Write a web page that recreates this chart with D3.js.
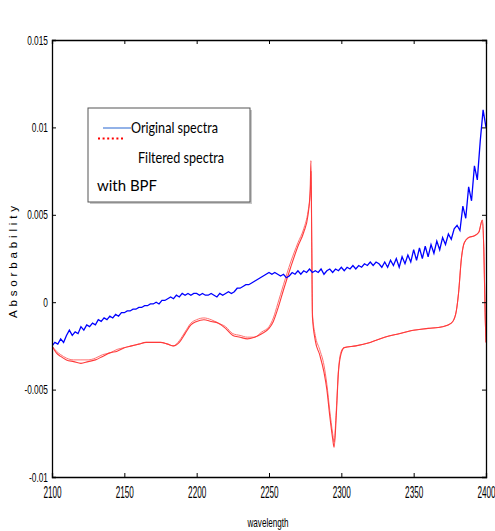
<!DOCTYPE html>
<html>
<head>
<meta charset="utf-8">
<script src="https://cdn.jsdelivr.net/npm/d3@7"></script>
<style>
  body { margin: 0; background: #fff; }
</style>
</head>
<body>
<div id="chart"></div>
<script>
// x ticks and y ticks
const xTicks = [2100, 2150, 2200, 2250, 2300, 2350, 2400];
const yTicks = [-0.01, -0.005, 0, 0.005, 0.01, 0.015];
const yTickLabels = ["-0.01", "-0.005", "0", "0.005", "0.01", "0.015"];

// original spectra, sampled every 2 nm from 2100
const originalStart = 2100;
const originalStep = 2;
const originalValues = [
  -0.0025, -0.0023, -0.0024, -0.0021, -0.0023, -0.0019, -0.0016, -0.0019, -0.0017, -0.0018,
  -0.0014, -0.0016, -0.0013, -0.0014, -0.0012, -0.0013, -0.0010, -0.0011, -0.0009, -0.0010,
  -0.0008, -0.0009, -0.0007, -0.0008, -0.0006, -0.0006, -0.0005, -0.0005, -0.0004, -0.0004,
  -0.0003, -0.0003, -0.0002, -0.0002, -0.0001, -0.0001, 0.0000, -0.0001, 0.0001, 0.0001,
  0.0002, 0.0003, 0.0002, 0.0004, 0.0003, 0.0005, 0.0004, 0.0005, 0.0004, 0.0005,
  0.0005, 0.0004, 0.0005, 0.0004, 0.0004, 0.0005, 0.0004, 0.0003, 0.0005, 0.0004,
  0.0005, 0.0006, 0.0005, 0.0006, 0.0008, 0.0008, 0.0009, 0.0010, 0.0010, 0.0011,
  0.0012, 0.0013, 0.0014, 0.0015, 0.0016, 0.0017, 0.0016, 0.0017, 0.0016, 0.0015,
  0.0016, 0.0014, 0.0015, 0.0017, 0.0016, 0.0018, 0.0016, 0.0018, 0.0017, 0.0019,
  0.0017, 0.0018, 0.0017, 0.0019, 0.0016, 0.0018, 0.0019, 0.0017, 0.0019, 0.0018,
  0.0020, 0.0018, 0.0020, 0.0019, 0.0021, 0.0019, 0.0021, 0.0020, 0.0022, 0.0021,
  0.0023, 0.0021, 0.0023, 0.0022, 0.0020, 0.0023, 0.0020, 0.0024, 0.0021, 0.0025,
  0.0020, 0.0026, 0.0022, 0.0027, 0.0023, 0.0030, 0.0024, 0.0031, 0.0025, 0.0032,
  0.0026, 0.0033, 0.0028, 0.0035, 0.0030, 0.0037, 0.0033, 0.0039, 0.0036, 0.0042,
  0.0044, 0.0041, 0.0055, 0.0048, 0.0066, 0.0058, 0.0078, 0.0070, 0.0092, 0.0110,
  0.0100
];

// filtered spectra (BPF), two overlapping runs
const filteredX = [
  2100, 2103, 2106, 2110, 2115, 2120, 2125, 2130, 2135, 2140,
  2145, 2150, 2155, 2160, 2165, 2170, 2175, 2180, 2184, 2188,
  2192, 2196, 2200, 2205, 2210, 2215, 2220, 2225, 2230, 2235,
  2240, 2245, 2250, 2253, 2256, 2260, 2265, 2270, 2274, 2277,
  2278.5, 2279, 2279.6, 2280, 2282, 2285, 2288, 2290, 2292, 2294,
  2295, 2296.5, 2298, 2300, 2302, 2310, 2320, 2330, 2340, 2350,
  2360, 2370, 2376, 2379, 2381, 2383, 2385, 2388, 2392, 2395,
  2397.5, 2398.5, 2399.5, 2400
];
const filteredA = [
  -0.0025, -0.0029, -0.0031, -0.0033, -0.0034, -0.0035, -0.0034, -0.0033, -0.0031, -0.0029,
  -0.0028, -0.0026, -0.0025, -0.0024, -0.0023, -0.0023, -0.0023, -0.0024, -0.0025, -0.0023,
  -0.0018, -0.0013, -0.0011, -0.0010, -0.0011, -0.0012, -0.0015, -0.0019, -0.0020, -0.0021,
  -0.0020, -0.0018, -0.0015, -0.0011, -0.0004, 0.0007, 0.0020, 0.0032, 0.0040, 0.0050,
  0.0065, 0.0081, 0.0030, -0.0008, -0.0022, -0.0030, -0.0040, -0.0050, -0.0065, -0.0078,
  -0.0083, -0.0065, -0.0040, -0.0029, -0.0026, -0.0025, -0.0023, -0.0020, -0.0018, -0.0016,
  -0.0015, -0.0014, -0.0012, -0.0007, 0.0005, 0.0025, 0.0034, 0.0037, 0.0038, 0.0040,
  0.0047, 0.0030, -0.0010, -0.0023
];
const filteredB = [
  -0.0025, -0.0028, -0.0030, -0.0032, -0.0033, -0.0033, -0.0033, -0.0032, -0.0030, -0.0029,
  -0.0027, -0.0026, -0.0025, -0.0024, -0.0023, -0.0023, -0.0023, -0.0024, -0.0025, -0.0022,
  -0.0017, -0.0012, -0.0010, -0.0009, -0.0010, -0.0012, -0.0014, -0.0018, -0.0019, -0.0020,
  -0.0020, -0.0017, -0.0014, -0.0009, -0.0001, 0.0010, 0.0023, 0.0034, 0.0042, 0.0052,
  0.0062, 0.0075, 0.0028, -0.0006, -0.0019, -0.0027, -0.0036, -0.0047, -0.0062, -0.0075,
  -0.0080, -0.0062, -0.0039, -0.0028, -0.0026, -0.0025, -0.0023, -0.0020, -0.0018, -0.0016,
  -0.0015, -0.0014, -0.0012, -0.0007, 0.0005, 0.0025, 0.0034, 0.0037, 0.0038, 0.0040,
  0.0047, 0.0030, -0.0010, -0.0023
];

const width = 495, height = 531;
const margin = { left: 52, right: 9, top: 40, bottom: 54 };
const baseFont = "Liberation Sans, Arial, sans-serif";
const legendFont = "Lato, 'Open Sans', sans-serif";

const svg = d3.select("#chart").append("svg")
  .attr("width", width)
  .attr("height", height)
  .attr("font-family", baseFont);

const x = d3.scaleLinear().domain([2100, 2400]).range([margin.left, width - margin.right]);
const y = d3.scaleLinear().domain([-0.01, 0.015]).range([height - margin.bottom, margin.top]);

const originalData = originalValues.map((v, i) => [originalStart + i * originalStep, v]);
const filteredDataA = filteredX.map((w, i) => [w, filteredA[i]]);
const filteredDataB = filteredX.map((w, i) => [w, filteredB[i]]);

// squeeze text horizontally, the source uses a condensed face
function narrow(sel, factor) {
  sel.each(function() {
    const w = this.getComputedTextLength();
    d3.select(this).attr("textLength", w * factor).attr("lengthAdjust", "spacingAndGlyphs");
  });
}

// clip to plot area
svg.append("clipPath").attr("id", "plot")
  .append("rect")
  .attr("x", margin.left).attr("y", margin.top)
  .attr("width", x.range()[1] - margin.left)
  .attr("height", y.range()[0] - margin.top);

const line = d3.line().x(d => x(d[0])).y(d => y(d[1]));
const smooth = d3.line().x(d => x(d[0])).y(d => y(d[1])).curve(d3.curveMonotoneX);

const plot = svg.append("g").attr("clip-path", "url(#plot)");

plot.append("path")
  .datum(filteredDataB)
  .attr("d", smooth)
  .attr("fill", "none")
  .attr("stroke", "#ff7070")
  .attr("stroke-width", 1);

plot.append("path")
  .datum(filteredDataA)
  .attr("d", smooth)
  .attr("fill", "none")
  .attr("stroke", "#ff3a3a")
  .attr("stroke-width", 1.1);

plot.append("path")
  .datum(originalData)
  .attr("d", line)
  .attr("fill", "none")
  .attr("stroke", "#0000ff")
  .attr("stroke-width", 1.3);

// axes with inward ticks
const xAxis = d3.axisBottom(x).tickValues(xTicks).tickSize(-4).tickPadding(9).tickFormat(d3.format("d"));
const yAxis = d3.axisLeft(y).tickValues(yTicks).tickSize(-4).tickPadding(4)
  .tickFormat((d, i) => yTickLabels[i]);

const gx = svg.append("g")
  .attr("transform", `translate(0,${y.range()[0]})`)
  .call(xAxis);
const gy = svg.append("g")
  .attr("transform", `translate(${margin.left},0)`)
  .call(yAxis);

svg.append("g")
  .attr("transform", `translate(0,${margin.top})`)
  .call(d3.axisTop(x).tickValues(xTicks).tickSize(-4).tickFormat(""));
svg.append("g")
  .attr("transform", `translate(${x.range()[1]},0)`)
  .call(d3.axisRight(y).tickValues(yTicks).tickSize(-4).tickFormat(""));

svg.selectAll(".domain").attr("stroke", "#000").attr("stroke-width", 1.3);
svg.selectAll(".tick line").attr("stroke", "#000");

gy.attr("font-family", baseFont).attr("font-size", 13);
gx.attr("font-family", baseFont).attr("font-size", 17);
gy.selectAll(".tick text").attr("fill", "#000").call(narrow, 0.64);
gx.selectAll(".tick text").attr("fill", "#000").call(narrow, 0.48);

// axis titles
svg.append("text")
  .attr("x", 268)
  .attr("y", 527)
  .attr("text-anchor", "middle")
  .attr("font-size", 13)
  .attr("textLength", 41).attr("lengthAdjust", "spacingAndGlyphs")
  .text("wavelength");

svg.append("text")
  .attr("transform", "translate(17,262) rotate(-90)")
  .attr("text-anchor", "middle")
  .attr("font-size", 11.5)
  .attr("textLength", 112)
  .text("Absorbability");

// legend
const legend = svg.append("g").attr("font-family", legendFont).attr("font-size", 15);
legend.append("rect")
  .attr("x", 90).attr("y", 110).attr("width", 162).attr("height", 94)
  .attr("fill", "#c8c8c8");
legend.append("rect")
  .attr("x", 88).attr("y", 108).attr("width", 162).attr("height", 94)
  .attr("fill", "#fff").attr("stroke", "#555").attr("stroke-width", 1);

legend.append("line")
  .attr("x1", 103).attr("x2", 131).attr("y1", 128).attr("y2", 128)
  .attr("stroke", "#4a7fd8").attr("stroke-width", 1.2);
legend.append("line")
  .attr("x1", 98).attr("x2", 123).attr("y1", 138.5).attr("y2", 138.5)
  .attr("stroke", "#ff0000").attr("stroke-width", 2).attr("stroke-dasharray", "2,2.6");

legend.append("text")
  .attr("x", 131).attr("y", 133)
  .attr("textLength", 87).attr("lengthAdjust", "spacingAndGlyphs")
  .text("Original spectra");
legend.append("text")
  .attr("x", 138).attr("y", 163)
  .attr("textLength", 86).attr("lengthAdjust", "spacingAndGlyphs")
  .text("Filtered spectra");
legend.append("text")
  .attr("x", 97).attr("y", 191)
  .attr("textLength", 60).attr("lengthAdjust", "spacingAndGlyphs")
  .text("with BPF");
</script>
</body>
</html>
